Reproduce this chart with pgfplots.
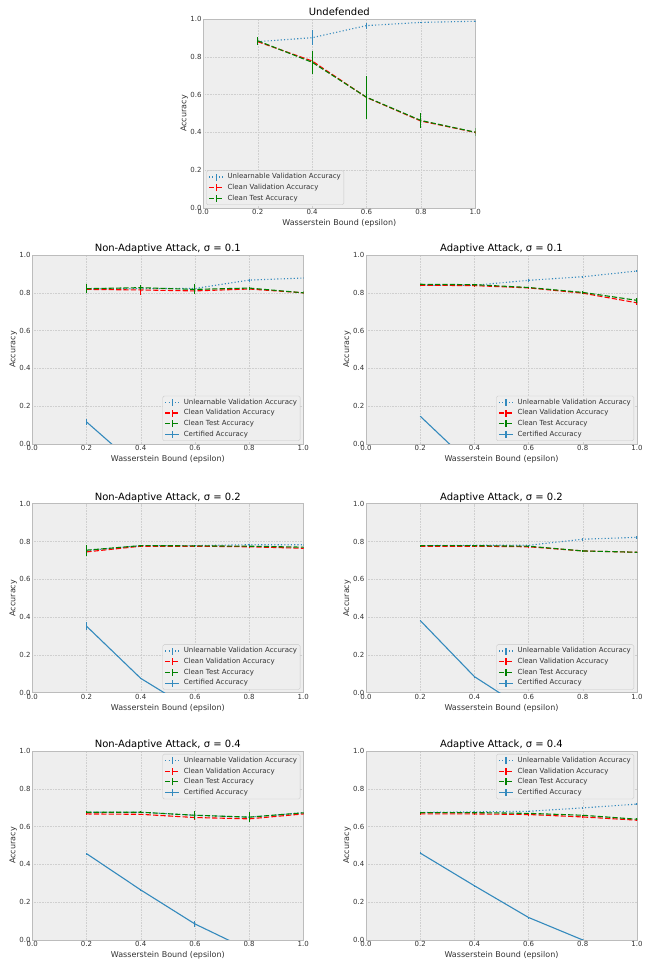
\documentclass[border=0pt]{standalone}
\usepackage{fontspec}
\setmainfont{DejaVu Sans}
\usepackage{pgfplots}
\pgfplotsset{compat=1.18}
\definecolor{bggray}{HTML}{EEEEEE}
\definecolor{edgegray}{HTML}{BCBCBC}
\definecolor{gridgray}{HTML}{CFCFCF}
\definecolor{cblue}{HTML}{348ABD}
\definecolor{cred}{HTML}{FF0000}
\definecolor{cgreen}{HTML}{008000}
\definecolor{txt}{HTML}{333333}
\pgfplotsset{
  panel/.style={
    scale only axis, width=271pt, height=189pt,
    xmin=0, xmax=1, ymin=0, ymax=1,
    xtick={0,0.2,0.4,0.6,0.8,1.0}, ytick={0,0.2,0.4,0.6,0.8,1.0},
    /pgf/number format/assume math mode=true,
    /pgf/number format/fixed, /pgf/number format/fixed zerofill, /pgf/number format/precision=1,
    axis background/.style={fill=bggray},
    axis line style={draw=edgegray, line width=0.6pt},
    grid=major, major grid style={draw=gridgray, dash pattern=on 0.7pt off 0.9pt, line width=0.4pt},
    major tick length=0pt,
    ticklabel style={font=\fontsize{7}{8}\selectfont, text=txt},
    xticklabel style={inner sep=1.2pt},
    yticklabel style={inner sep=1.5pt},
    title style={font=\fontsize{10}{12}\selectfont, at={(axis description cs:0.5,1)}, anchor=base, yshift=-2.5pt},
    xlabel style={font=\fontsize{8}{9.6}\selectfont, text=txt, at={(axis description cs:0.5,0)}, anchor=base, yshift=-18pt},
    ylabel style={font=\fontsize{8}{9.6}\selectfont, text=txt, at={(axis description cs:0,0.5)}, anchor=base, yshift=17pt},
    xlabel={Wasserstein Bound (epsilon)}, ylabel={Accuracy},
    legend style={font=\fontsize{7}{8.4}\selectfont, text=txt, fill=bggray, draw=edgegray!80, rounded corners=1.5pt,
      nodes={inner sep=1pt, text height=5.2pt, text depth=1.5pt}, row sep=2pt, inner xsep=2pt, inner ysep=2pt,
      /tikz/every odd column/.append style={column sep=3pt}},
    legend cell align=left,
    legend image code/.code={
      \draw[##1] (0pt,0pt) -- (14pt,0pt);
      \draw[##1,solid] (7pt,-3.5pt) -- (7pt,3.5pt);
    },
  },
  ebar/.style={error bars/y dir=both, error bars/y explicit, error bars/error mark=none,
    error bars/error bar style={solid, line width=1.1pt}},
  unl/.style={color=cblue, line width=1.1pt, dash pattern=on 1.1pt off 2.2pt, mark=none, ebar},
  cval/.style={color=cred, line width=1.1pt, dash pattern=on 5.2pt off 2.2pt, mark=none, ebar},
  ctest/.style={color=cgreen, line width=1.1pt, dash pattern=on 5.2pt off 2.2pt, mark=none, ebar},
  cert/.style={color=cblue, line width=1.1pt, solid, mark=none, ebar},
}
\begin{document}
\begin{tikzpicture}
\path[use as bounding box] (0,0) rectangle (660pt,969pt);

% Undefended
\begin{axis}[panel, at={(203.3pt,761pt)}, anchor=south west, width=272pt, title={Undefended},
  legend style={at={(axis description cs:0,0)}, anchor=south west, xshift=3pt, yshift=3pt}]
\addplot[unl] coordinates {(0.2,0.880)+-(0,0.010) (0.4,0.901)+-(0,0.040) (0.6,0.965)+-(0,0.016) (0.8,0.982)+-(0,0.004) (1.0,0.988)+-(0,0.003)};
\addlegendentry{Unlearnable Validation Accuracy}
\addplot[cval] coordinates {(0.2,0.880)+-(0,0.015) (0.4,0.778)+-(0,0.015) (0.6,0.585)+-(0,0.010) (0.8,0.460)+-(0,0.008) (1.0,0.400)+-(0,0.006)};
\addlegendentry{Clean Validation Accuracy}
\addplot[ctest] coordinates {(0.2,0.885)+-(0,0.020) (0.4,0.771)+-(0,0.062) (0.6,0.586)+-(0,0.113) (0.8,0.463)+-(0,0.042) (1.0,0.401)+-(0,0.020)};
\addlegendentry{Clean Test Accuracy}
\end{axis}

% Non-Adaptive 0.1
\begin{axis}[panel, at={(32.3pt,525pt)}, anchor=south west, title={Non-Adaptive Attack, σ = 0.1},
  legend style={at={(axis description cs:1,0)}, anchor=south east, xshift=-3pt, yshift=3pt}]
\addplot[unl] coordinates {(0.2,0.820)+-(0,0.005) (0.4,0.822)+-(0,0.005) (0.6,0.823)+-(0,0.008) (0.8,0.867)+-(0,0.008) (1.0,0.878)+-(0,0.006)};
\addlegendentry{Unlearnable Validation Accuracy}
\addplot[cval] coordinates {(0.2,0.818)+-(0,0.010) (0.4,0.815)+-(0,0.025) (0.6,0.810)+-(0,0.010) (0.8,0.820)+-(0,0.005) (1.0,0.800)+-(0,0.005)};
\addlegendentry{Clean Validation Accuracy}
\addplot[ctest] coordinates {(0.2,0.822)+-(0,0.024) (0.4,0.827)+-(0,0.012) (0.6,0.818)+-(0,0.026) (0.8,0.825)+-(0,0.008) (1.0,0.800)+-(0,0.008)};
\addlegendentry{Clean Test Accuracy}
\addplot[cert] coordinates {(0.2,0.117)+-(0,0.015) (0.4,-0.135)+-(0,0.010) (0.6,-0.350)+-(0,0.0) (0.8,-0.500)+-(0,0.0) (1.0,-0.600)+-(0,0.0)};
\addlegendentry{Certified Accuracy}
\end{axis}

% Adaptive 0.1
\begin{axis}[panel, at={(366pt,525pt)}, anchor=south west, title={Adaptive Attack, σ = 0.1},
  legend style={at={(axis description cs:1,0)}, anchor=south east, xshift=-3pt, yshift=3pt}]
\addplot[unl] coordinates {(0.2,0.840)+-(0,0.003) (0.4,0.840)+-(0,0.004) (0.6,0.866)+-(0,0.008) (0.8,0.885)+-(0,0.006) (1.0,0.915)+-(0,0.004)};
\addlegendentry{Unlearnable Validation Accuracy}
\addplot[cval] coordinates {(0.2,0.840)+-(0,0.003) (0.4,0.838)+-(0,0.003) (0.6,0.826)+-(0,0.004) (0.8,0.798)+-(0,0.005) (1.0,0.747)+-(0,0.010)};
\addlegendentry{Clean Validation Accuracy}
\addplot[ctest] coordinates {(0.2,0.845)+-(0,0.003) (0.4,0.843)+-(0,0.003) (0.6,0.828)+-(0,0.004) (0.8,0.802)+-(0,0.008) (1.0,0.760)+-(0,0.015)};
\addlegendentry{Clean Test Accuracy}
\addplot[cert] coordinates {(0.2,0.147)+-(0,0.003) (0.4,-0.125)+-(0,0.0) (0.6,-0.400)+-(0,0.0) (0.8,-0.600)+-(0,0.0) (1.0,-0.700)+-(0,0.0)};
\addlegendentry{Certified Accuracy}
\end{axis}

% Non-Adaptive 0.2
\begin{axis}[panel, at={(32.3pt,276.3pt)}, anchor=south west, title={Non-Adaptive Attack, σ = 0.2},
  legend style={at={(axis description cs:1,0)}, anchor=south east, xshift=-3pt, yshift=3pt}]
\addplot[unl] coordinates {(0.2,0.752)+-(0,0.010) (0.4,0.778)+-(0,0.003) (0.6,0.778)+-(0,0.003) (0.8,0.783)+-(0,0.004) (1.0,0.783)+-(0,0.004)};
\addlegendentry{Unlearnable Validation Accuracy}
\addplot[cval] coordinates {(0.2,0.745)+-(0,0.010) (0.4,0.775)+-(0,0.003) (0.6,0.775)+-(0,0.003) (0.8,0.772)+-(0,0.003) (1.0,0.764)+-(0,0.003)};
\addlegendentry{Clean Validation Accuracy}
\addplot[ctest] coordinates {(0.2,0.754)+-(0,0.030) (0.4,0.778)+-(0,0.003) (0.6,0.777)+-(0,0.003) (0.8,0.775)+-(0,0.003) (1.0,0.770)+-(0,0.003)};
\addlegendentry{Clean Test Accuracy}
\addplot[cert] coordinates {(0.2,0.352)+-(0,0.020) (0.4,0.076)+-(0,0.003) (0.6,-0.100)+-(0,0.0) (0.8,-0.250)+-(0,0.0) (1.0,-0.400)+-(0,0.0)};
\addlegendentry{Certified Accuracy}
\end{axis}

% Adaptive 0.2
\begin{axis}[panel, at={(366pt,276.3pt)}, anchor=south west, title={Adaptive Attack, σ = 0.2},
  legend style={at={(axis description cs:1,0)}, anchor=south east, xshift=-3pt, yshift=3pt}]
\addplot[unl] coordinates {(0.2,0.778)+-(0,0.003) (0.4,0.780)+-(0,0.003) (0.6,0.780)+-(0,0.004) (0.8,0.812)+-(0,0.008) (1.0,0.822)+-(0,0.008)};
\addlegendentry{Unlearnable Validation Accuracy}
\addplot[cval] coordinates {(0.2,0.775)+-(0,0.003) (0.4,0.775)+-(0,0.003) (0.6,0.772)+-(0,0.003) (0.8,0.750)+-(0,0.004) (1.0,0.743)+-(0,0.003)};
\addlegendentry{Clean Validation Accuracy}
\addplot[ctest] coordinates {(0.2,0.778)+-(0,0.003) (0.4,0.778)+-(0,0.003) (0.6,0.775)+-(0,0.003) (0.8,0.750)+-(0,0.006) (1.0,0.743)+-(0,0.004)};
\addlegendentry{Clean Test Accuracy}
\addplot[cert] coordinates {(0.2,0.382)+-(0,0.003) (0.4,0.085)+-(0,0.003) (0.6,-0.100)+-(0,0.0) (0.8,-0.300)+-(0,0.0) (1.0,-0.500)+-(0,0.0)};
\addlegendentry{Certified Accuracy}
\end{axis}

% Non-Adaptive 0.4
\begin{axis}[panel, at={(32.3pt,29pt)}, anchor=south west, title={Non-Adaptive Attack, σ = 0.4},
  legend style={at={(axis description cs:1,1)}, anchor=north east, xshift=-3pt, yshift=-3pt}]
\addplot[unl] coordinates {(0.2,0.676)+-(0,0.004) (0.4,0.676)+-(0,0.004) (0.6,0.660)+-(0,0.010) (0.8,0.650)+-(0,0.010) (1.0,0.673)+-(0,0.004)};
\addlegendentry{Unlearnable Validation Accuracy}
\addplot[cval] coordinates {(0.2,0.667)+-(0,0.004) (0.4,0.665)+-(0,0.004) (0.6,0.648)+-(0,0.012) (0.8,0.641)+-(0,0.015) (1.0,0.667)+-(0,0.004)};
\addlegendentry{Clean Validation Accuracy}
\addplot[ctest] coordinates {(0.2,0.676)+-(0,0.005) (0.4,0.676)+-(0,0.004) (0.6,0.660)+-(0,0.020) (0.8,0.650)+-(0,0.025) (1.0,0.673)+-(0,0.005)};
\addlegendentry{Clean Test Accuracy}
\addplot[cert] coordinates {(0.2,0.457)+-(0,0.003) (0.4,0.265)+-(0,0.003) (0.6,0.085)+-(0,0.015) (0.8,-0.053)+-(0,0.0) (1.0,-0.200)+-(0,0.0)};
\addlegendentry{Certified Accuracy}
\end{axis}

% Adaptive 0.4
\begin{axis}[panel, at={(366pt,29pt)}, anchor=south west, title={Adaptive Attack, σ = 0.4},
  legend style={at={(axis description cs:1,1)}, anchor=north east, xshift=-3pt, yshift=-3pt}]
\addplot[unl] coordinates {(0.2,0.675)+-(0,0.003) (0.4,0.678)+-(0,0.003) (0.6,0.681)+-(0,0.004) (0.8,0.699)+-(0,0.004) (1.0,0.719)+-(0,0.005)};
\addlegendentry{Unlearnable Validation Accuracy}
\addplot[cval] coordinates {(0.2,0.667)+-(0,0.003) (0.4,0.667)+-(0,0.003) (0.6,0.664)+-(0,0.003) (0.8,0.651)+-(0,0.003) (1.0,0.634)+-(0,0.004)};
\addlegendentry{Clean Validation Accuracy}
\addplot[ctest] coordinates {(0.2,0.674)+-(0,0.003) (0.4,0.674)+-(0,0.003) (0.6,0.670)+-(0,0.003) (0.8,0.660)+-(0,0.003) (1.0,0.639)+-(0,0.004)};
\addlegendentry{Clean Test Accuracy}
\addplot[cert] coordinates {(0.2,0.460)+-(0,0.003) (0.4,0.287)+-(0,0.003) (0.6,0.119)+-(0,0.003) (0.8,0.000)+-(0,0.003) (1.0,-0.100)+-(0,0.0)};
\addlegendentry{Certified Accuracy}
\end{axis}
\end{tikzpicture}
\end{document}
